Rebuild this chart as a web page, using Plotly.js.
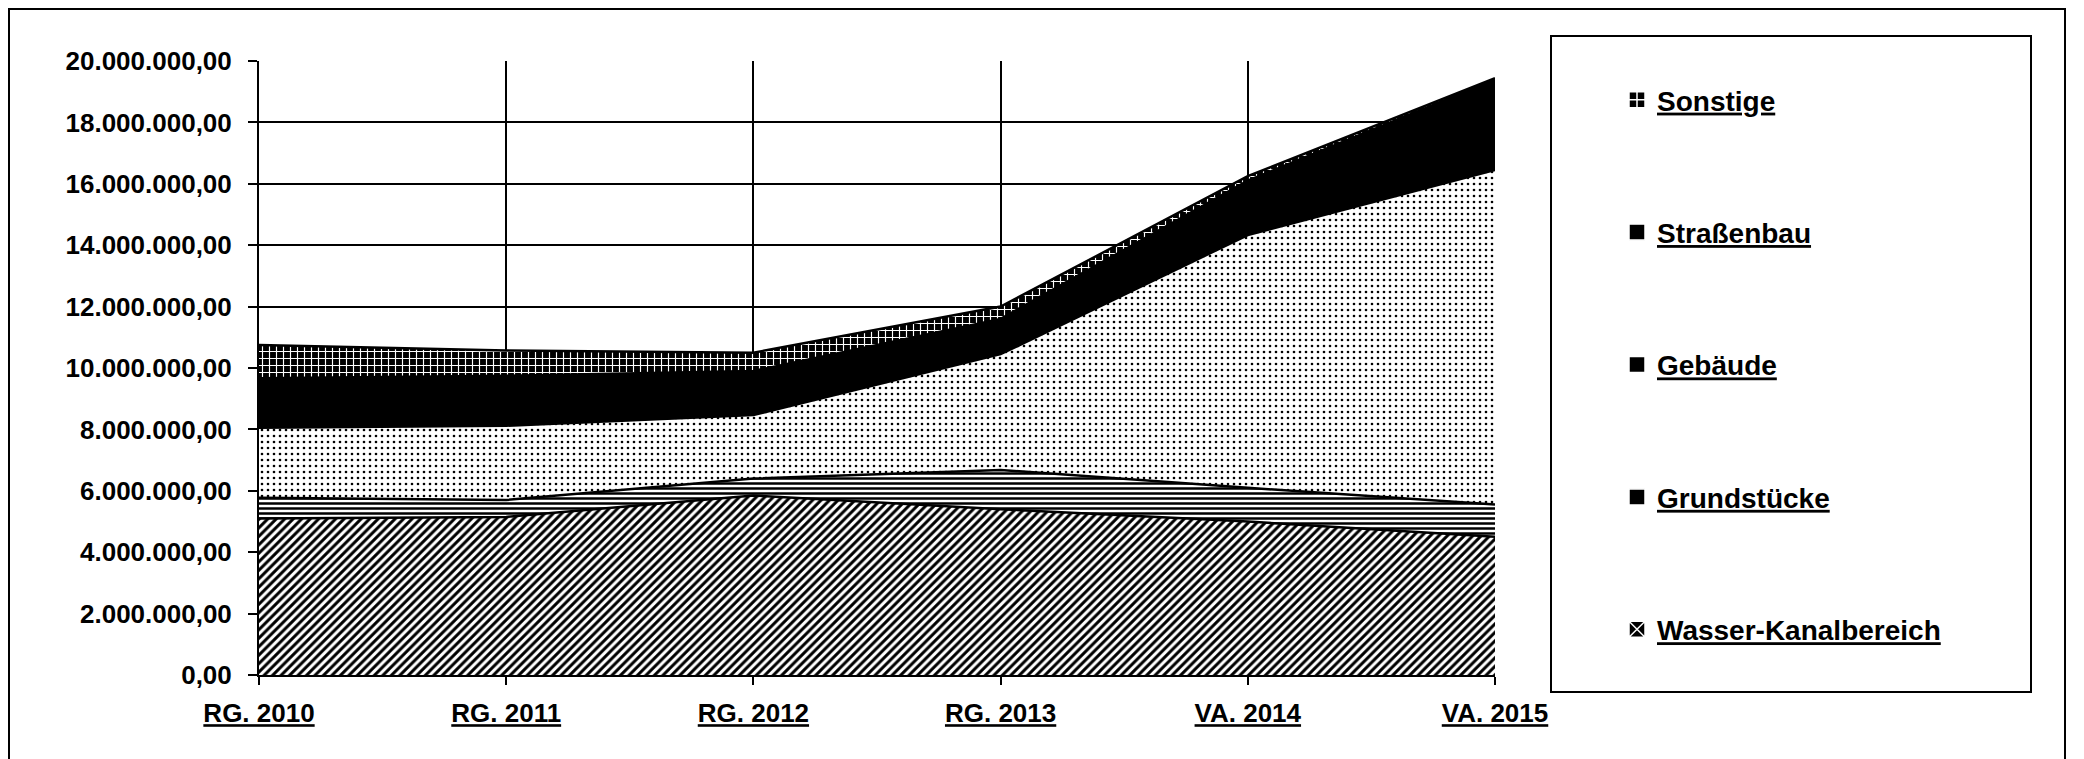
<!DOCTYPE html>
<html>
<head>
<meta charset="utf-8">
<script src="https://cdn.plot.ly/plotly-3.0.1.min.js"></script>
<style>
html,body{margin:0;padding:0;background:#ffffff;}
#chart{width:2084px;height:759px;}
</style>
</head>
<body>
<div id="chart"></div>
<script>
// ---- data (in EUR) ----
const categories = ['RG. 2010', 'RG. 2011', 'RG. 2012', 'RG. 2013', 'VA. 2014', 'VA. 2015'];
const wasserKanal = [5100000, 5150000, 5850000, 5400000, 5000000, 4500000];
const grundstuecke = [670000, 550000, 550000, 1280000, 1100000, 1050000];
const gebaeude = [2280000, 2420000, 2070000, 3770000, 8230000, 10900000];
const strassenbau = [1620000, 1630000, 1430000, 1150000, 1770000, 2940000];
const sonstige = [1080000, 820000, 600000, 400000, 150000, 50000];
const seriesNames = ['Wasser-Kanalbereich', 'Grundstücke', 'Gebäude', 'Straßenbau', 'Sonstige'];
const yTickValues = [0, 2000000, 4000000, 6000000, 8000000, 10000000, 12000000, 14000000, 16000000, 18000000, 20000000];

// ---- layout geometry (pixels) ----
const W = 2084, H = 759;
const L = 259, R = 1495, T = 61, B = 675;
const px = x => (x - L) / (R - L);
const py = y => (B - y) / (B - T);
const FONT = 'Arial, "Liberation Sans", sans-serif';

function area(name, vals, fillcolor, pattern) {
  const t = {
    type: 'scatter', x: categories, y: vals, name: name,
    stackgroup: 'one', mode: 'lines',
    line: {color: '#000000', width: 2.5, shape: 'linear'},
    fillcolor: fillcolor,
    showlegend: false, hoverinfo: 'skip'
  };
  if (pattern) t.fillpattern = pattern;
  return t;
}

function proxy(name, symbol) {
  return {
    type: 'scatter', x: [null], y: [null], mode: 'markers',
    name: '<u>' + name + '</u>', legendgroup: name, showlegend: true,
    marker: {symbol: symbol, size: 16, color: '#000000', line: {color: '#ffffff', width: 1.5}},
    hoverinfo: 'skip'
  };
}

const traces = [
  area(seriesNames[0], wasserKanal, '#ffffff', {shape: '/', fgcolor: '#000000', bgcolor: '#ffffff', size: 6, solidity: 0.5}),
  area(seriesNames[1], grundstuecke, '#ffffff', {shape: '-', fgcolor: '#000000', bgcolor: '#ffffff', size: 5, solidity: 0.5}),
  area(seriesNames[2], gebaeude, '#ffffff', {shape: '.', fgcolor: '#000000', bgcolor: '#ffffff', size: 6, solidity: 0.15}),
  area(seriesNames[3], strassenbau, '#000000', null),
  area(seriesNames[4], sonstige, '#000000', {shape: '+', fgcolor: '#ffffff', bgcolor: '#000000', size: 7, solidity: 0.3}),
  proxy(seriesNames[4], 'square-cross'),
  proxy(seriesNames[3], 'square'),
  proxy(seriesNames[2], 'square'),
  proxy(seriesNames[1], 'square'),
  proxy(seriesNames[0], 'square-x')
];

const layout = {
  width: W, height: H,
  margin: {l: L, r: W - R, t: T, b: H - B, pad: 0},
  paper_bgcolor: '#ffffff', plot_bgcolor: '#ffffff',
  separators: ',.',
  showlegend: true,
  font: {family: FONT, color: '#000000'},
  xaxis: {
    type: 'category', range: [0, categories.length - 1], fixedrange: true,
    showgrid: true, gridcolor: '#000000', gridwidth: 2,
    showline: true, linecolor: '#000000', linewidth: 2,
    ticks: 'outside', ticklen: 8, tickwidth: 2, tickcolor: '#000000',
    tickfont: {family: FONT, size: 26, weight: 'bold', color: '#000000', lineposition: 'under'},
    ticklabelstandoff: 6,
    zeroline: false
  },
  yaxis: {
    range: [0, 20000000], tickvals: yTickValues, tickformat: ',.2f', fixedrange: true,
    showgrid: true, gridcolor: '#000000', gridwidth: 2,
    showline: true, linecolor: '#000000', linewidth: 2,
    ticks: 'outside', ticklen: 9, tickwidth: 2, tickcolor: '#000000',
    tickfont: {family: FONT, size: 26, weight: 'bold', color: '#000000'},
    ticklabelstandoff: 11,
    zeroline: false
  },
  legend: {
    x: px(1617), y: py(75), xanchor: 'left', yanchor: 'top',
    traceorder: 'grouped', tracegroupgap: 93,
    bgcolor: 'rgba(0,0,0,0)', borderwidth: 0,
    font: {family: FONT, size: 28, weight: 'bold', color: '#000000'}
  },
  shapes: [
    {type: 'rect', xref: 'paper', yref: 'paper', x0: px(1551), x1: px(2031), y0: py(692), y1: py(36),
     line: {color: '#000000', width: 2}, fillcolor: 'rgba(0,0,0,0)', layer: 'below'},
    {type: 'rect', xref: 'paper', yref: 'paper', x0: px(9), x1: px(2065), y0: py(775), y1: py(9),
     line: {color: '#000000', width: 2}, fillcolor: 'rgba(0,0,0,0)', layer: 'below'}
  ]
};

Plotly.newPlot('chart', traces, layout, {displayModeBar: false, staticPlot: true});
</script>
</body>
</html>
